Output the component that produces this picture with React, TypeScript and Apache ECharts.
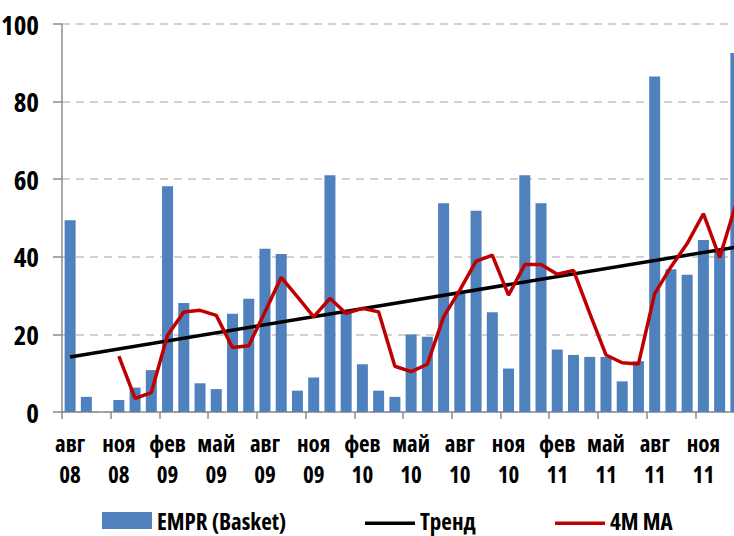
import React, { useEffect, useRef } from "react";
import * as echarts from "echarts";

const categories = [
  "авг\n08", "сен\n08", "окт\n08", "ноя\n08", "дек\n08",
  "янв\n09", "фев\n09", "мар\n09", "апр\n09", "май\n09", "июн\n09", "июл\n09", "авг\n09", "сен\n09", "окт\n09", "ноя\n09", "дек\n09",
  "янв\n10", "фев\n10", "мар\n10", "апр\n10", "май\n10", "июн\n10", "июл\n10", "авг\n10", "сен\n10", "окт\n10", "ноя\n10", "дек\n10",
  "янв\n11", "фев\n11", "мар\n11", "апр\n11", "май\n11", "июн\n11", "июл\n11", "авг\n11", "сен\n11", "окт\n11", "ноя\n11", "дек\n11",
  "янв\n12",
];

const emprValues = [
  49.4, 3.9, 0, 3.1, 6.3, 10.8, 58.2, 28.1, 7.4, 5.9, 25.3, 29.2, 42.1, 40.7,
  5.5, 8.9, 61.0, 25.8, 12.3, 5.5, 3.9, 20.0, 19.4, 53.8, 30.5, 51.9, 25.7,
  11.2, 61.0, 53.8, 16.1, 14.7, 14.2, 14.2, 7.9, 13.1, 86.5, 36.8, 35.4, 44.3,
  42.0, 92.5,
];

const maValues = [
  null, null, null, 14.4, 3.5, 5.0, 19.8, 25.8, 26.2, 24.9, 16.6, 17.1, 25.8,
  34.7, 29.7, 24.5, 29.3, 25.4, 26.7, 25.8, 11.8, 10.4, 12.3, 24.5, 31.4, 38.9,
  40.4, 30.1, 38.0, 38.0, 35.5, 36.5, 25.4, 14.7, 12.7, 12.4, 30.5, 37.4, 43.4,
  51.1, 39.8, 53.5,
];

const trendStart = 14.2;
const trendEnd = 42.5;
const trendValues = categories.map((_, i) =>
  i === 0 ? trendStart : i === categories.length - 1 ? trendEnd : null
);

const yTicks = { min: 0, max: 100, interval: 20 };

const FONT = "'Open Sans', 'Noto Sans', sans-serif";
const LINE_ICON = "path://M0,0L0.01,0ZM0,9.5L50,9.5L50,13L0,13ZM50,17L49.99,17Z";

export default function App() {
  const ref = useRef<HTMLDivElement>(null);
  useEffect(() => {
    document.body.style.margin = "0";
    document.body.style.overflow = "hidden";
    const chart = echarts.init(ref.current!, null, { renderer: "svg" });
    const legendText = { fontFamily: FONT, fontSize: 23, fontWeight: "bold", color: "#000" };
    chart.setOption({
      animation: false,
      backgroundColor: "#ffffff",
      grid: { left: 62, right: 16, top: 24, bottom: 124, containLabel: false, outerBoundsMode: "none" },
      legend: [
        {
          data: [{ name: "EMPR (Basket)", icon: "rect" }],
          left: 102, top: 509, itemWidth: 50, itemHeight: 17, padding: 0,
          textStyle: legendText,
        },
        {
          data: [{ name: "Тренд", icon: LINE_ICON }],
          left: 365, top: 509, itemWidth: 50, itemHeight: 17, padding: 0,
          symbolKeepAspect: false,
          textStyle: legendText,
        },
        {
          data: [{ name: "4M MA", icon: LINE_ICON }],
          left: 555, top: 509, itemWidth: 50, itemHeight: 17, padding: 0,
          symbolKeepAspect: false,
          textStyle: legendText,
        },
      ],
      xAxis: {
        type: "category",
        data: categories,
        boundaryGap: true,
        axisLine: { lineStyle: { color: "#8c8c8c", width: 1.5 } },
        axisTick: { show: true, interval: 2, length: 7, lineStyle: { color: "#8c8c8c", width: 1.5 } },
        axisLabel: {
          interval: 2,
          fontFamily: FONT,
          fontSize: 23,
          fontWeight: "bold",
          lineHeight: 31.5,
          color: "#000",
          margin: 15,
        },
        splitLine: { show: false },
      },
      yAxis: {
        type: "value",
        min: yTicks.min,
        max: yTicks.max,
        interval: yTicks.interval,
        axisLine: { show: true, lineStyle: { color: "#8c8c8c", width: 1.5 } },
        axisTick: { show: true, length: 9, lineStyle: { color: "#8c8c8c", width: 1.5 } },
        axisLabel: {
          fontFamily: FONT,
          fontSize: 27,
          fontWeight: "bold",
          color: "#000",
          margin: 23,
        },
        splitLine: { show: true, lineStyle: { color: "#c4c4c4", width: 1.5, type: [8, 6] } },
      },
      series: [
        {
          name: "EMPR (Basket)",
          type: "bar",
          data: emprValues,
          barWidth: 11,
          itemStyle: { color: "#4f81bd" },
        },
        {
          name: "Тренд",
          type: "line",
          data: trendValues,
          connectNulls: true,
          symbol: "none",
          lineStyle: { color: "#000000", width: 3.5 },
          itemStyle: { color: "#000000" },
        },
        {
          name: "4M MA",
          type: "line",
          data: maValues,
          symbol: "none",
          lineStyle: { color: "#c00000", width: 3.5 },
          itemStyle: { color: "#c00000" },
        },
      ],
    });
    return () => chart.dispose();
  }, []);
  return (
    <div className="chartwrap" style={{ position: "fixed", left: 0, top: 0, width: 734, height: 536, overflow: "hidden" }}>
      <style>{`.chartwrap text { font-stretch: condensed; }`}</style>
      <div ref={ref} style={{ width: 760, height: 536 }} />
    </div>
  );
}
